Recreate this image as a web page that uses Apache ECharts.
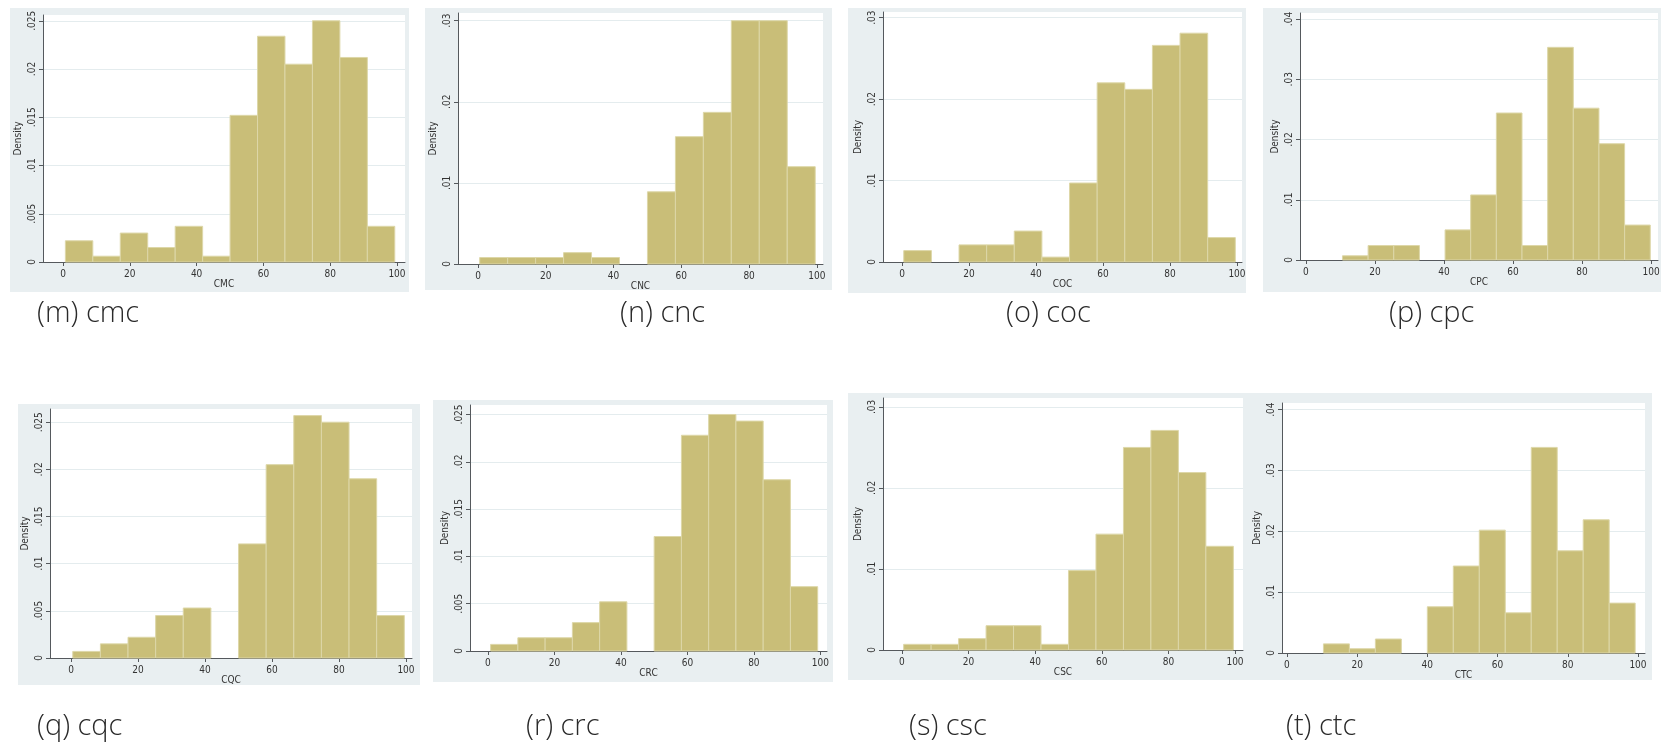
<!DOCTYPE html>
<html>
<head>
<meta charset="utf-8">
<script src="https://cdn.jsdelivr.net/npm/echarts@6/dist/echarts.min.js"></script>
<style>
html,body{margin:0;padding:0;background:#fff;}
#c{width:1666px;height:749px;}
</style>
</head>
<body>
<div id="c"></div>
<script>
// ---------- data ----------
var panelNames = ['CMC','CNC','COC','CPC','CQC','CRC','CSC','CTC'];
var captions = ['(m) cmc','(n) cnc','(o) coc','(p) cpc','(q) cqc','(r) crc','(s) csc','(t) ctc'];
var xTicks = [0, 20, 40, 60, 80, 100];
var yTicks025 = [0, 0.005, 0.01, 0.015, 0.02, 0.025];
var yTicks03 = [0, 0.01, 0.02, 0.03];
var yTicks04 = [0, 0.01, 0.02, 0.03, 0.04];

// bin start and bin width for each histogram
var cmcBin = [0.7, 8.22];
var cncBin = [0.5, 8.25];
var cocBin = [0.5, 8.25];
var cpcBin = [10.6, 7.43];
var cqcBin = [0.5, 8.25];
var crcBin = [0.8, 8.2];
var cscBin = [0.5, 8.25];
var ctcBin = [10.4, 7.4];

// densities
var cmcDensity = [0.0022, 0.0006, 0.0030, 0.0015, 0.0037, 0.0006, 0.0152, 0.0234, 0.0205, 0.0250, 0.0212, 0.0037];
var cncDensity = [0.0008, 0.0008, 0.0008, 0.0014, 0.0008, 0, 0.0089, 0.0157, 0.0187, 0.0300, 0.0300, 0.0120];
var cocDensity = [0.0014, 0, 0.0021, 0.0021, 0.0038, 0.0006, 0.0097, 0.0220, 0.0212, 0.0266, 0.0281, 0.0030];
var cpcDensity = [0.0007, 0.0024, 0.0024, 0, 0.0050, 0.0108, 0.0244, 0.0024, 0.0353, 0.0252, 0.0193, 0.0058];
var cqcDensity = [0.0007, 0.0015, 0.0022, 0.0045, 0.0053, 0, 0.0121, 0.0205, 0.0257, 0.0250, 0.0190, 0.0045];
var crcDensity = [0.0007, 0.0014, 0.0014, 0.0030, 0.0052, 0, 0.0121, 0.0228, 0.0250, 0.0243, 0.0181, 0.0068];
var cscDensity = [0.0007, 0.0007, 0.0014, 0.0030, 0.0030, 0.0007, 0.0098, 0.0143, 0.0250, 0.0271, 0.0219, 0.0128];
var ctcDensity = [0.0015, 0.0007, 0.0023, 0, 0.0076, 0.0143, 0.0202, 0.0066, 0.0338, 0.0168, 0.0219, 0.0082];

var bins = [cmcBin, cncBin, cocBin, cpcBin, cqcBin, crcBin, cscBin, ctcBin];
var densities = [cmcDensity, cncDensity, cocDensity, cpcDensity, cqcDensity, crcDensity, cscDensity, ctcDensity];
var yTickSets = [yTicks025, yTicks03, yTicks03, yTicks04, yTicks025, yTicks025, yTicks03, yTicks04];

// ---------- layout (pixels) ----------
var layout = [
  {g:[43,15,362,247],   xr:[-6,102.4],  ymax:0.0256, bg:[10,8,399,284],    cap:[37,317]},
  {g:[458,13,365,251],  xr:[-5.9,101.8],ymax:0.03095,bg:[425,8,407,282],   cap:[620,317]},
  {g:[883,12,359,250],  xr:[-5.7,101.5],ymax:0.0307, bg:[848,8,398,285],   cap:[1006,317]},
  {g:[1300,13,358,247], xr:[-1.7,102],  ymax:0.041,  bg:[1263,8,398,284],  cap:[1389,317]},
  {g:[50,409,362,249],  xr:[-6.3,101.8],ymax:0.0264, bg:[18,404,402,281],  cap:[37,730]},
  {g:[470,405,357,246], xr:[-5.4,102],  ymax:0.026,  bg:[433,400,400,282], cap:[526,730]},
  {g:[883,398,360,252], xr:[-5.7,102.4],ymax:0.0311, bg:[848,393,400,287], cap:[909,730]},
  {g:[1282,403,363,250],xr:[-1.4,102],  ymax:0.0411, bg:[1245,393,407,287],cap:[1286,730]}
];

var BAR = '#C9BE78';
var BAR_EDGE = '#DDD7A8';
var PANEL_BG = '#E9EFF1';
var AXIS = '#55595d';
var TXT = '#333333';
var small = '"Liberation Sans Narrow","DejaVu Sans Condensed","Liberation Sans",sans-serif';

var grids = [], xAxes = [], yAxes = [], series = [], graphics = [];

function fmtY(v){ return v === 0 ? '0' : String(+v.toFixed(4)).replace(/^0/, ''); }

for (var i = 0; i < 8; i++) {
  var L = layout[i];
  graphics.push({type:'rect', z:-10, shape:{x:L.bg[0], y:L.bg[1], width:L.bg[2], height:L.bg[3]},
    style:{fill:PANEL_BG}});
  graphics.push({type:'text', left:L.cap[0], top:L.cap[1]-18,
    style:{text:captions[i], font:'300 29px "Open Sans", Lato, sans-serif', fill:'#2a2a2a'}});

  grids.push({left:L.g[0], top:L.g[1], width:L.g[2], height:L.g[3], show:true,
    backgroundColor:'#ffffff', borderWidth:0, containLabel:false});

  xAxes.push({type:'value', gridIndex:i, min:L.xr[0], max:L.xr[1],
    name:panelNames[i], nameLocation:'middle', nameGap:17,
    nameTextStyle:{fontSize:10, color:TXT, fontFamily:small},
    axisLine:{show:true, onZero:false, lineStyle:{color:AXIS, width:1}},
    axisTick:{show:true, length:4, customValues:xTicks, lineStyle:{color:AXIS}},
    axisLabel:{show:true, customValues:xTicks, fontSize:10, color:TXT, fontFamily:small, margin:7},
    splitLine:{show:false}});

  var yt = yTickSets[i];
  yAxes.push({type:'value', gridIndex:i, min:0, max:L.ymax,
    name:'Density', nameLocation:'middle', nameGap:20, nameRotate:90,
    nameTextStyle:{fontSize:10, color:TXT, fontFamily:small},
    axisLine:{show:true, onZero:false, lineStyle:{color:AXIS, width:1}},
    axisTick:{show:true, length:4, customValues:yt, lineStyle:{color:AXIS}},
    axisLabel:{show:true, customValues:yt, rotate:90, fontSize:10, color:TXT, fontFamily:small,
      margin:6, formatter:fmtY},
    splitLine:{show:true, lineStyle:{color:'#E4ECEE', width:1}}});

  var b = bins[i], d = densities[i], items = [];
  for (var k = 0; k < d.length; k++) {
    if (d[k] > 0) items.push([b[0] + k*b[1], b[0] + (k+1)*b[1], d[k]]);
  }
  series.push({type:'custom', xAxisIndex:i, yAxisIndex:i, data:items, silent:true,
    encode:{x:[0,1], y:2},
    renderItem:function(params, api){
      var p0 = api.coord([api.value(0), api.value(2)]);
      var p1 = api.coord([api.value(1), 0]);
      return {type:'rect', shape:{x:p0[0], y:p0[1], width:p1[0]-p0[0], height:p1[1]-p0[1]},
        style:{fill:BAR, stroke:BAR_EDGE, lineWidth:1}};
    }});
}

var chart = echarts.init(document.getElementById('c'), null, {renderer:'canvas'});
chart.setOption({
  animation:false,
  backgroundColor:'#ffffff',
  grid:grids, xAxis:xAxes, yAxis:yAxes, series:series, graphic:graphics
});
</script>
</body>
</html>
